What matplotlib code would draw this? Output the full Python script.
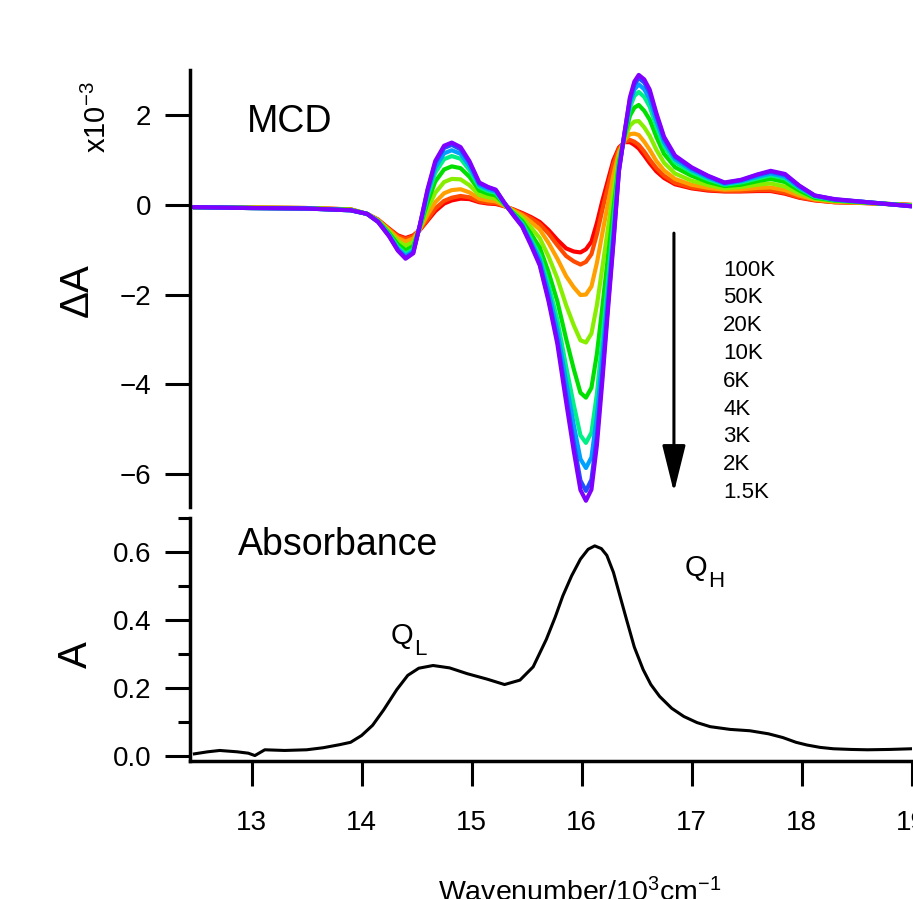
import numpy as np
import matplotlib
matplotlib.use("Agg")
import matplotlib.pyplot as plt
from matplotlib.ticker import MultipleLocator, FormatStrFormatter

plt.rcParams['font.family'] = ['Liberation Sans', 'DejaVu Sans']
plt.rcParams['mathtext.fontset'] = 'custom'
plt.rcParams['mathtext.rm'] = 'Liberation Sans'
plt.rcParams['mathtext.it'] = 'Liberation Sans:italic'

# wavenumber grid of the MCD traces (10^3 cm^-1)
wn_mcd = [12.47, 13.0, 13.5, 13.9, 14.05, 14.15, 14.25, 14.33, 14.40, 14.47,
          14.53, 14.60, 14.67, 14.75, 14.82, 14.90, 14.98, 15.07, 15.15, 15.22,
          15.30, 15.38, 15.46, 15.54, 15.62, 15.70, 15.78, 15.86, 15.93, 15.99,
          16.04, 16.09, 16.14, 16.19, 16.24, 16.29, 16.34, 16.39, 16.44, 16.48,
          16.52, 16.57, 16.62, 16.68, 16.75, 16.85, 17.0, 17.15, 17.3, 17.45,
          17.6, 17.72, 17.85, 17.98, 18.12, 18.3, 18.6, 19.0]

# MCD, Delta A x 10^-3
mcd_100K = [-0.05, -0.06, -0.07, -0.10, -0.20, -0.33, -0.53, -0.68, -0.74, -0.68,
            -0.56, -0.35, -0.14, 0.03, 0.10, 0.14, 0.13, 0.06, 0.03, 0.02,
            -0.03, -0.10, -0.18, -0.27, -0.38, -0.56, -0.78, -0.97, -1.04, -1.06,
            -0.99, -0.82, -0.40, 0.10, 0.55, 1.00, 1.28, 1.40, 1.40, 1.34,
            1.26, 1.10, 0.93, 0.75, 0.60, 0.46, 0.37, 0.32, 0.30, 0.30,
            0.31, 0.31, 0.25, 0.16, 0.10, 0.06, 0.04, 0.00]
mcd_50K = [-0.05, -0.06, -0.07, -0.10, -0.20, -0.33, -0.54, -0.70, -0.76, -0.70,
           -0.55, -0.32, -0.08, 0.09, 0.16, 0.20, 0.17, 0.08, 0.05, 0.04,
           -0.03, -0.11, -0.20, -0.30, -0.43, -0.64, -0.90, -1.14, -1.26, -1.33,
           -1.27, -1.10, -0.65, -0.10, 0.41, 0.91, 1.25, 1.41, 1.45, 1.41,
           1.34, 1.19, 1.01, 0.82, 0.65, 0.49, 0.39, 0.34, 0.31, 0.31,
           0.33, 0.33, 0.27, 0.17, 0.11, 0.06, 0.04, 0.00]
mcd_20K = [-0.05, -0.06, -0.07, -0.10, -0.20, -0.34, -0.56, -0.74, -0.82, -0.75,
           -0.54, -0.22, 0.06, 0.26, 0.33, 0.35, 0.28, 0.14, 0.10, 0.08,
           -0.02, -0.12, -0.23, -0.38, -0.55, -0.85, -1.20, -1.59, -1.84, -2.01,
           -2.00, -1.82, -1.29, -0.62, 0.03, 0.67, 1.18, 1.44, 1.58, 1.59,
           1.56, 1.41, 1.23, 0.98, 0.77, 0.58, 0.45, 0.38, 0.34, 0.35,
           0.38, 0.39, 0.33, 0.21, 0.12, 0.07, 0.04, -0.01]
mcd_10K = [-0.05, -0.06, -0.07, -0.11, -0.20, -0.35, -0.59, -0.81, -0.91, -0.83,
           -0.52, -0.09, 0.27, 0.51, 0.58, 0.57, 0.44, 0.22, 0.17, 0.14,
           0.00, -0.15, -0.29, -0.50, -0.74, -1.15, -1.64, -2.24, -2.69, -3.02,
           -3.07, -2.87, -2.23, -1.38, -0.52, 0.32, 1.08, 1.47, 1.77, 1.86,
           1.87, 1.73, 1.54, 1.23, 0.94, 0.70, 0.54, 0.44, 0.37, 0.40,
           0.45, 0.48, 0.41, 0.26, 0.14, 0.09, 0.05, -0.01]
mcd_6K = [-0.05, -0.07, -0.08, -0.11, -0.20, -0.36, -0.63, -0.88, -1.01, -0.92,
          -0.50, 0.06, 0.52, 0.79, 0.86, 0.82, 0.63, 0.32, 0.25, 0.21,
          0.01, -0.18, -0.36, -0.64, -0.95, -1.50, -2.15, -2.99, -3.67, -4.19,
          -4.30, -4.08, -3.32, -2.26, -1.16, -0.09, 0.97, 1.52, 1.99, 2.17,
          2.23, 2.10, 1.90, 1.52, 1.14, 0.84, 0.65, 0.51, 0.42, 0.45,
          0.53, 0.58, 0.51, 0.32, 0.16, 0.10, 0.05, -0.02]
mcd_4K = [-0.05, -0.07, -0.08, -0.12, -0.20, -0.37, -0.66, -0.94, -1.09, -0.99,
          -0.48, 0.19, 0.72, 1.02, 1.09, 1.03, 0.78, 0.40, 0.31, 0.27,
          0.02, -0.20, -0.41, -0.76, -1.13, -1.78, -2.57, -3.61, -4.47, -5.14,
          -5.31, -5.08, -4.21, -2.98, -1.68, -0.42, 0.87, 1.55, 2.17, 2.43,
          2.52, 2.41, 2.19, 1.75, 1.31, 0.95, 0.73, 0.57, 0.45, 0.50,
          0.59, 0.66, 0.59, 0.37, 0.18, 0.11, 0.06, -0.02]
mcd_3K = [-0.05, -0.07, -0.08, -0.12, -0.20, -0.37, -0.68, -0.98, -1.14, -1.03,
          -0.46, 0.26, 0.83, 1.15, 1.22, 1.14, 0.87, 0.44, 0.35, 0.30,
          0.03, -0.21, -0.44, -0.82, -1.22, -1.94, -2.80, -3.95, -4.92, -5.67,
          -5.87, -5.63, -4.71, -3.38, -1.97, -0.61, 0.82, 1.57, 2.27, 2.57,
          2.69, 2.58, 2.36, 1.88, 1.40, 1.02, 0.78, 0.61, 0.47, 0.53,
          0.63, 0.70, 0.63, 0.39, 0.20, 0.12, 0.06, -0.03]
mcd_2K = [-0.05, -0.07, -0.08, -0.12, -0.20, -0.38, -0.69, -1.01, -1.18, -1.06,
          -0.45, 0.32, 0.94, 1.27, 1.34, 1.24, 0.95, 0.48, 0.39, 0.33,
          0.04, -0.22, -0.47, -0.87, -1.31, -2.09, -3.01, -4.26, -5.32, -6.15,
          -6.38, -6.13, -5.15, -3.74, -2.23, -0.78, 0.77, 1.59, 2.36, 2.69,
          2.83, 2.73, 2.50, 2.00, 1.48, 1.07, 0.82, 0.64, 0.49, 0.55,
          0.67, 0.74, 0.67, 0.42, 0.21, 0.12, 0.06, -0.03]
mcd_1p5K = [-0.05, -0.07, -0.08, -0.12, -0.20, -0.38, -0.70, -1.02, -1.20, -1.08,
            -0.45, 0.35, 0.98, 1.32, 1.39, 1.29, 0.98, 0.50, 0.40, 0.34,
            0.04, -0.23, -0.48, -0.90, -1.35, -2.15, -3.10, -4.40, -5.50, -6.36,
            -6.60, -6.35, -5.35, -3.90, -2.35, -0.85, 0.75, 1.60, 2.40, 2.75,
            2.90, 2.80, 2.57, 2.05, 1.52, 1.10, 0.84, 0.65, 0.50, 0.56,
            0.68, 0.76, 0.69, 0.43, 0.21, 0.13, 0.06, -0.03]

temps = ['100K', '50K', '20K', '10K', '6K', '4K', '3K', '2K', '1.5K']
mcd_curves = [mcd_100K, mcd_50K, mcd_20K, mcd_10K, mcd_6K,
              mcd_4K, mcd_3K, mcd_2K, mcd_1p5K]
colors = ['#ff0000', '#ff4a00', '#ffa000', '#88ee00', '#00e000',
          '#00f088', '#00a0ff', '#1f4fff', '#7f00ff']

# absorbance
wn_abs = [12.48, 12.6, 12.71, 12.87, 12.97, 13.03, 13.12, 13.3, 13.5, 13.65,
          13.8, 13.9, 14.0, 14.1, 14.2, 14.32, 14.42, 14.52, 14.65, 14.8,
          14.96, 15.14, 15.30, 15.44, 15.56, 15.68, 15.76, 15.83, 15.91, 15.99,
          16.06, 16.12, 16.18, 16.23, 16.29, 16.35, 16.41, 16.48, 16.56, 16.63,
          16.71, 16.82, 16.93, 17.05, 17.17, 17.35, 17.53, 17.7, 17.83, 17.95,
          18.05, 18.17, 18.29, 18.45, 18.6, 18.8, 19.0]
absorb = [0.006, 0.012, 0.016, 0.012, 0.008, 0.001, 0.018, 0.016, 0.018, 0.024,
          0.033, 0.040, 0.060, 0.090, 0.135, 0.195, 0.237, 0.258, 0.266, 0.259,
          0.242, 0.226, 0.210, 0.223, 0.262, 0.343, 0.408, 0.471, 0.530, 0.579,
          0.608, 0.618, 0.610, 0.590, 0.540, 0.470, 0.400, 0.320, 0.254, 0.210,
          0.175, 0.140, 0.116, 0.098, 0.086, 0.078, 0.074, 0.065, 0.054, 0.040,
          0.032, 0.025, 0.021, 0.019, 0.018, 0.019, 0.021]

W, H = 913, 899
fig = plt.figure(figsize=(W / 100, H / 100), dpi=100)
ax1 = fig.add_axes([190 / W, 1 - 507 / H, 721.5 / W, 437 / H])
ax2 = fig.add_axes([190 / W, 1 - 761 / H, 721.5 / W, 243 / H])

tick_kw = dict(direction='out', length=18, width=2.2, color='k', labelsize=20)

# top panel: MCD
for y, c in zip(mcd_curves, colors):
    ax1.plot(wn_mcd, y, color=c, lw=3, solid_joinstyle='round',
             solid_capstyle='round')
ax1.set_xlim(12.44, 19.0)
ax1.set_ylim(-6.74, 3.01)
ax1.set_yticks([-6, -4, -2, 0, 2])
for s in ['top', 'right', 'bottom']:
    ax1.spines[s].set_visible(False)
ax1.spines['left'].set_linewidth(2.5)
ax1.tick_params(axis='y', pad=10, **tick_kw)
ax1.tick_params(axis='x', bottom=False, labelbottom=False)

ax1.annotate('', xy=(16.84, -6.41), xytext=(16.84, -0.63),
             arrowprops=dict(arrowstyle='-|>,head_length=2.9,head_width=0.72',
                             lw=2.2, color='k', shrinkA=0, shrinkB=0))

# bottom panel: absorbance
ax2.plot(wn_abs, absorb, color='k', lw=2.2, solid_joinstyle='round')
ax2.set_xlim(12.44, 19.0)
ax2.set_ylim(-0.015, 0.70)
ax2.set_yticks([0.0, 0.2, 0.4, 0.6])
ax2.yaxis.set_major_formatter(FormatStrFormatter('%.1f'))
ax2.yaxis.set_minor_locator(MultipleLocator(0.1))
ax2.set_xticks([13, 14, 15, 16, 17, 18, 19])
for s in ['top', 'right']:
    ax2.spines[s].set_visible(False)
for s in ['left', 'bottom']:
    ax2.spines[s].set_linewidth(2.5)
ax2.tick_params(axis='y', pad=10, **tick_kw)
ax2.tick_params(axis='x', pad=17, **tick_kw)
ax2.tick_params(axis='y', which='minor', length=9, width=2.2)

# texts
fig.text(247 / W, 1 - 132 / H, 'MCD', fontsize=27, va='baseline')
fig.text(238 / W, 1 - 555 / H, 'Absorbance', fontsize=27, va='baseline')
fig.text(77 / W, 1 - 290 / H, '\u0394A', fontsize=29, rotation=90,
         ha='center', va='center')
fig.text(76 / W, 1 - 655 / H, 'A', fontsize=29, rotation=90,
         ha='center', va='center')
fig.text(97 / W, 1 - 117 / H, r'x10$^\mathregular{-3}$', fontsize=21,
         rotation=90, ha='center', va='center')
fig.text(391 / W, 1 - 644 / H, 'Q', fontsize=21, va='baseline')
fig.text(414 / W, 1 - 655 / H, 'L', fontsize=16, va='baseline')
fig.text(685 / W, 1 - 576 / H, 'Q', fontsize=21, va='baseline')
fig.text(708 / W, 1 - 587 / H, 'H', fontsize=16, va='baseline')
for i, t in enumerate(temps):
    fig.text(723 / W, 1 - (270 + 27.8 * i) / H, t, fontsize=16, va='center')
fig.text(580 / W, -0.003, r'Wavenumber/10$^\mathregular{3}$cm$^\mathregular{-1}$',
         fontsize=20.5, ha='center', va='baseline')

fig.savefig('out.png', dpi=100)
